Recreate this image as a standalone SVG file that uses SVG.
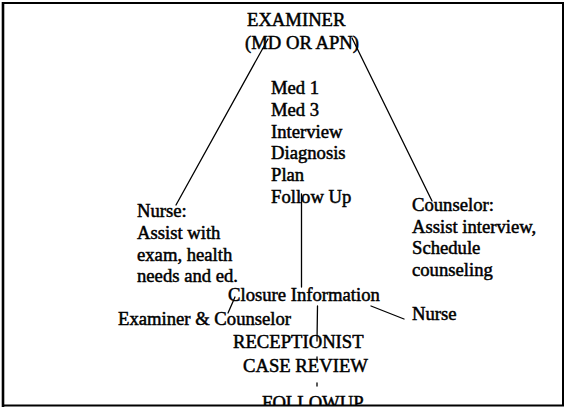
<svg xmlns="http://www.w3.org/2000/svg" width="565" height="411" viewBox="0 0 565 411">
<style>
.t{font-family:"Liberation Serif","Times New Roman",serif;font-size:18.67px;fill:#000;stroke:#000;stroke-width:0.5}
.c{stroke:#000;stroke-width:1.3;fill:none;stroke-linecap:round}
.b{stroke:#000;fill:none}
</style>
<defs>
<clipPath id="clipBottom"><rect x="0" y="0" width="565" height="405"/></clipPath>
</defs>
<rect x="0" y="0" width="565" height="411" fill="#fff"/>
<g id="frame">
<line class="b" x1="3" y1="3" x2="564" y2="3" stroke-width="2.2"/>
<line class="b" x1="3" y1="2" x2="3" y2="407" stroke-width="2.6"/>
<line class="b" x1="563" y1="3" x2="563" y2="406" stroke-width="2"/>
<line class="b" x1="3" y1="405.5" x2="564" y2="405.5" stroke-width="2.2"/>
</g>
<g id="connectors">
<line class="c" x1="268" y1="39" x2="176" y2="205"/>
<line class="c" x1="352" y1="38" x2="432" y2="201"/>
<line class="c" x1="301.5" y1="194" x2="301.5" y2="287"/>
<line class="c" x1="235" y1="297" x2="228" y2="313"/>
<line class="c" x1="371" y1="306" x2="404" y2="319"/>
<line class="c" x1="317.5" y1="306" x2="317" y2="341"/>
<line class="c" x1="317" y1="357" x2="317" y2="360"/>
<line class="c" x1="317" y1="383" x2="317" y2="386"/>
</g>
<g id="examiner">
<text class="t" x="247" y="26">EXAMINER</text>
<text class="t" x="245" y="48.5">(MD OR APN)</text>
</g>
<g id="examiner-tasks">
<text class="t" x="271" y="93.5">Med 1</text>
<text class="t" x="271" y="115.5">Med 3</text>
<text class="t" x="271" y="137.5">Interview</text>
<text class="t" x="271" y="159">Diagnosis</text>
<text class="t" x="271" y="181">Plan</text>
<text class="t" x="271" y="203">Follow Up</text>
</g>
<g id="nurse">
<text class="t" x="137" y="216.5">Nurse:</text>
<text class="t" x="137" y="238.5">Assist with</text>
<text class="t" x="137" y="260.5">exam, health</text>
<text class="t" x="137" y="282">needs and ed.</text>
</g>
<g id="counselor">
<text class="t" x="412" y="211">Counselor:</text>
<text class="t" x="412" y="232.5">Assist interview,</text>
<text class="t" x="412" y="254">Schedule</text>
<text class="t" x="412" y="275.5">counseling</text>
</g>
<g id="closure">
<text class="t" x="228" y="301">Closure Information</text>
</g>
<g id="examiner-counselor">
<text class="t" x="118" y="325">Examiner &amp; Counselor</text>
</g>
<g id="nurse-closure">
<text class="t" x="412" y="319.5">Nurse</text>
</g>
<g id="receptionist">
<text class="t" x="233" y="348">RECEPTIONIST</text>
</g>
<g id="case-review">
<text class="t" x="243" y="371.5">CASE REVIEW</text>
</g>
<g id="followup" clip-path="url(#clipBottom)">
<text class="t" x="262" y="408.5">FOLLOWUP</text>
</g>
</svg>
